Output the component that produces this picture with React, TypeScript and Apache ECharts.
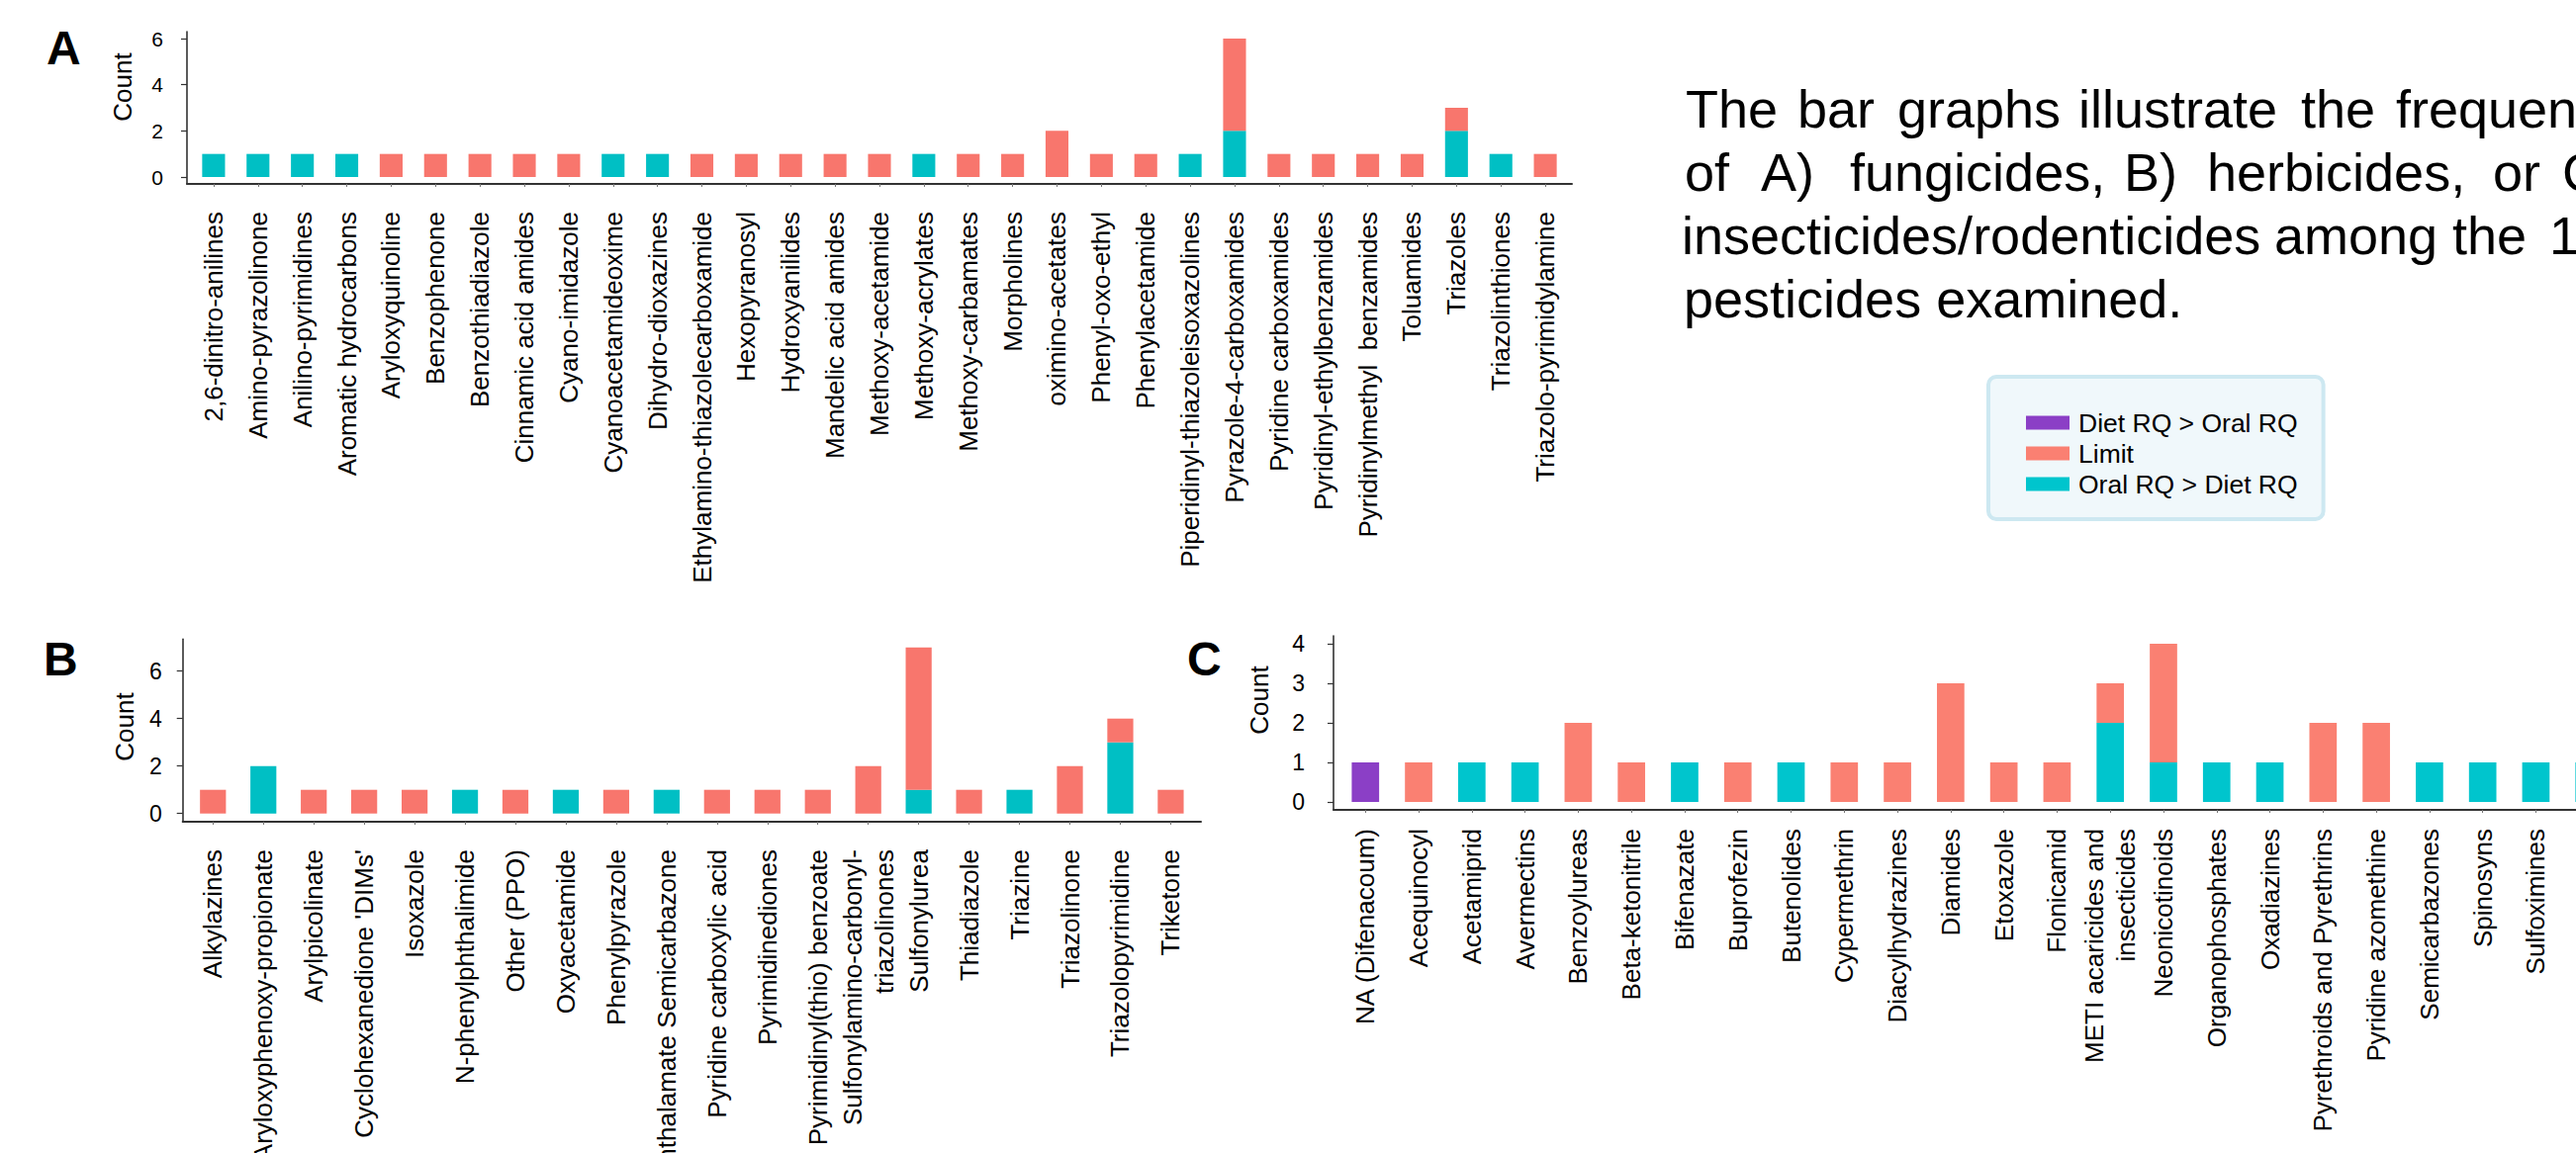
import React, { useEffect, useRef } from "react";
import * as echarts from "echarts";

const FONT = "Arial, 'Liberation Sans', Helvetica, sans-serif";

// ---- Panel A: fungicide chemical groups ----
const fungicideGroups = [
  "2,6-dinitro-anilines",
  "Amino-pyrazolinone",
  "Anilino-pyrimidines",
  "Aromatic hydrocarbons",
  "Aryloxyquinoline",
  "Benzophenone",
  "Benzothiadiazole",
  "Cinnamic acid amides",
  "Cyano-imidazole",
  "Cyanoacetamideoxime",
  "Dihydro-dioxazines",
  "Ethylamino-thiazolecarboxamide",
  "Hexopyranosyl",
  "Hydroxyanilides",
  "Mandelic acid amides",
  "Methoxy-acetamide",
  "Methoxy-acrylates",
  "Methoxy-carbamates",
  "Morpholines",
  "oximino-acetates",
  "Phenyl-oxo-ethyl",
  "Phenylacetamide",
  "Piperidinyl-thiazoleisoxazolines",
  "Pyrazole-4-carboxamides",
  "Pyridine carboxamides",
  "Pyridinyl-ethylbenzamides",
  "Pyridinylmethyl  benzamides",
  "Toluamides",
  "Triazoles",
  "Triazolinthiones",
  "Triazolo-pyrimidylamine",
];
const fungicideOral = [1, 1, 1, 1, 0, 0, 0, 0, 0, 1, 1, 0, 0, 0, 0, 0, 1, 0, 0, 0, 0, 0, 1, 2, 0, 0, 0, 0, 2, 1, 0];
const fungicideLimit = [0, 0, 0, 0, 1, 1, 1, 1, 1, 0, 0, 1, 1, 1, 1, 1, 0, 1, 1, 2, 1, 1, 0, 4, 1, 1, 1, 1, 1, 0, 1];
const fungicideTicks = [0, 2, 4, 6];

// ---- Panel B: herbicide chemical groups ----
const herbicideGroups = [
  "Alkylazines",
  "Aryloxyphenoxy-propionate",
  "Arylpicolinate",
  "Cyclohexanedione 'DIMs'",
  "Isoxazole",
  "N-phenylphthalimide",
  "Other (PPO)",
  "Oxyacetamide",
  "Phenylpyrazole",
  "Phthalamate Semicarbazone",
  "Pyridine carboxylic acid",
  "Pyrimidinediones",
  "Pyrimidinyl(thio) benzoate",
  "Sulfonylamino-carbonyl-\ntriazolinones",
  "Sulfonylurea",
  "Thiadiazole",
  "Triazine",
  "Triazolinone",
  "Triazolopyrimidine",
  "Triketone",
];
const herbicideOral = [0, 2, 0, 0, 0, 1, 0, 1, 0, 1, 0, 0, 0, 0, 1, 0, 1, 0, 3, 0];
const herbicideLimit = [1, 0, 1, 1, 1, 0, 1, 0, 1, 0, 1, 1, 1, 2, 6, 1, 0, 2, 1, 1];
const herbicideTicks = [0, 2, 4, 6];

// ---- Panel C: insecticide / rodenticide chemical groups ----
const insecticideGroups = [
  "NA (Difenacoum)",
  "Acequinocyl",
  "Acetamiprid",
  "Avermectins",
  "Benzoylureas",
  "Beta-ketonitrile",
  "Bifenazate",
  "Buprofezin",
  "Butenolides",
  "Cypermethrin",
  "Diacylhydrazines",
  "Diamides",
  "Etoxazole",
  "Flonicamid",
  "METI acaricides and\ninsecticides",
  "Neonicotinoids",
  "Organophosphates",
  "Oxadiazines",
  "Pyrethroids and Pyrethrins",
  "Pyridine azomethine",
  "Semicarbazones",
  "Spinosyns",
  "Sulfoximines",
  "",
];
const insecticideOral = [0, 0, 1, 1, 0, 0, 1, 0, 1, 0, 0, 0, 0, 0, 2, 1, 1, 1, 0, 0, 1, 1, 1, 1];
const insecticideLimit = [0, 1, 0, 0, 2, 1, 0, 1, 0, 1, 1, 3, 1, 1, 1, 3, 0, 0, 2, 2, 0, 0, 0, 0];
const insecticideDiet = [1, 0, 0, 0, 0, 0, 0, 0, 0, 0, 0, 0, 0, 0, 0, 0, 0, 0, 0, 0, 0, 0, 0, 0];
const insecticideTicks = [0, 1, 2, 3, 4];

const SERIES_DIET = "Diet RQ > Oral RQ";
const SERIES_LIMIT = "Limit";
const SERIES_ORAL = "Oral RQ > Diet RQ";

// Caption, one justified line per row
const captionLines = [
  ["The", "bar", "graphs", "illustrate", "the", "frequency"],
  ["of", "A)", "fungicides,", "B)", "herbicides,", "or", "C)"],
  ["insecticides/rodenticides", "among", "the", "11"],
  ["pesticides examined."],
];
const captionWordX = [
  [1704, 1817, 1918, 2101, 2326, 2422],
  [1703, 1780, 1870, 2147, 2231, 2520, 2590],
  [1700, 2299, 2479, 2577],
  [1702],
];
const captionBaselines = [129, 193, 257, 321];

const COLORS_AB = { oral: "#00BFC4", limit: "#F8766D", diet: "#8B3FC6" };
const COLORS_C = { oral: "#00C5CD", limit: "#FA8072", diet: "#8B3FC6" };

type Panel = {
  letter: string;
  letterX: number;
  letterY: number;
  groups: string[];
  oral: number[];
  limit: number[];
  diet?: number[];
  ticks: number[];
  yMin: number;
  yMax: number;
  left: number;
  top: number;
  width: number;
  height: number;
  tickFont: number;
  yLabelMargin: number;
  xLabelMargin: number;
  countX: number;
  countY: number;
  colors: { oral: string; limit: string; diet: string };
};

const panels: Panel[] = [
  {
    letter: "A", letterX: 47, letterY: 48,
    groups: fungicideGroups, oral: fungicideOral, limit: fungicideLimit,
    ticks: fungicideTicks, yMin: -0.3, yMax: 6.3,
    left: 189, top: 32, width: 1400, height: 154,
    tickFont: 21, yLabelMargin: 24, xLabelMargin: 28,
    countX: 124, countY: 88, colors: COLORS_AB,
  },
  {
    letter: "B", letterX: 44, letterY: 666,
    groups: herbicideGroups, oral: herbicideOral, limit: herbicideLimit,
    ticks: herbicideTicks, yMin: -0.35, yMax: 7.35,
    left: 184.7, top: 646.3, width: 1029.3, height: 184.8,
    tickFont: 23, yLabelMargin: 21, xLabelMargin: 28,
    countX: 126, countY: 735, colors: COLORS_AB,
  },
  {
    letter: "C", letterX: 1200, letterY: 666,
    groups: insecticideGroups, oral: insecticideOral, limit: insecticideLimit, diet: insecticideDiet,
    ticks: insecticideTicks, yMin: -0.2, yMax: 4.2,
    left: 1348, top: 643, width: 1301.5, height: 176,
    tickFont: 23, yLabelMargin: 29, xLabelMargin: 19,
    countX: 1273, countY: 708, colors: COLORS_C,
  },
];

// Stack the layers bottom-up: each item is [slot, start, end]
function stackSegments(layers: number[][]) {
  const n = layers[0].length;
  const base = new Array(n).fill(0);
  return layers.map((values) => {
    const items: number[][] = [];
    values.forEach((v, k) => {
      if (v > 0) items.push([k + 1, base[k], base[k] + v]);
      base[k] += v;
    });
    return items;
  });
}

function buildOption() {
  const grid: any[] = [];
  const xAxis: any[] = [];
  const yAxis: any[] = [];
  const series: any[] = [];
  const graphic: any[] = [];

  panels.forEach((p, i) => {
    const n = p.groups.length;
    const slots = p.groups.map((_, k) => k + 1);
    const band = p.width / (n + 0.2);
    const barW = band * 0.515;

    grid.push({
      left: p.left, top: p.top, width: p.width, height: p.height,
      containLabel: false, outerBoundsMode: "none",
    });

    xAxis.push({
      type: "value", gridIndex: i, min: 0.4, max: n + 0.6,
      axisLine: { show: true, onZero: false, lineStyle: { color: "#333", width: 2 } },
      axisTick: { show: true, customValues: slots, length: 3, lineStyle: { color: "#777", width: 1 } },
      axisLabel: {
        show: true, customValues: slots, rotate: 90, margin: p.xLabelMargin,
        fontSize: 26, fontFamily: FONT, color: "#000", lineHeight: 32,
        formatter: (v: number) => p.groups[Math.round(v) - 1] ?? "",
      },
      splitLine: { show: false },
    });

    yAxis.push({
      type: "value", gridIndex: i, min: p.yMin, max: p.yMax,
      axisLine: { show: true, onZero: false, lineStyle: { color: "#333", width: 1.6 } },
      axisTick: { show: true, customValues: p.ticks, length: 6, lineStyle: { color: "#333", width: 1.2 } },
      axisLabel: {
        show: true, customValues: p.ticks, margin: p.yLabelMargin,
        fontSize: p.tickFont, fontFamily: FONT, color: "#000",
      },
      splitLine: { show: false },
    });

    const layers = [
      { name: SERIES_ORAL, values: p.oral, color: p.colors.oral },
      { name: SERIES_LIMIT, values: p.limit, color: p.colors.limit },
    ];
    if (p.diet) layers.push({ name: SERIES_DIET, values: p.diet, color: p.colors.diet });

    const stacked = stackSegments(layers.map((l) => l.values));

    layers.forEach((l, li) => {
      series.push({
        type: "custom", name: l.name, xAxisIndex: i, yAxisIndex: i,
        data: stacked[li],
        encode: { x: 0, y: [1, 2] },
        itemStyle: { color: l.color },
        silent: true,
        renderItem: (_params: any, api: any) => {
          const x = api.value(0);
          const lo = api.coord([x, api.value(1)]);
          const hi = api.coord([x, api.value(2)]);
          return {
            type: "rect",
            shape: { x: lo[0] - barW / 2, y: hi[1], width: barW, height: lo[1] - hi[1] },
            style: { fill: l.color },
          };
        },
      });
    });

    graphic.push({
      type: "text", x: p.letterX, y: p.letterY,
      style: {
        text: p.letter, fontSize: 48, fontWeight: "bold", fontFamily: FONT,
        fill: "#000", align: "left", verticalAlign: "middle",
      },
    });
    graphic.push({
      type: "text", x: p.countX, y: p.countY, rotation: Math.PI / 2,
      style: {
        text: "Count", fontSize: 26, fontFamily: FONT, fill: "#000",
        align: "center", verticalAlign: "middle",
      },
    });
  });

  captionLines.forEach((words, li) => {
    words.forEach((w, wi) => {
      graphic.push({
        type: "text", x: captionWordX[li][wi], y: captionBaselines[li] - 0.3465 * 54,
        style: {
          text: w, fontSize: 54, fontFamily: FONT, fill: "#000",
          align: "left", verticalAlign: "middle",
        },
      });
    });
  });

  return {
    animation: false,
    backgroundColor: "#fff",
    grid, xAxis, yAxis, series, graphic,
    legend: {
      show: true, orient: "vertical", left: 2010, top: 381,
      selectedMode: false, icon: "rect",
      itemWidth: 44, itemHeight: 14, itemGap: 4,
      padding: [33, 26, 22, 38],
      backgroundColor: "#f0f8fb", borderColor: "#cde8f1", borderWidth: 4, borderRadius: 8,
      textStyle: { fontSize: 26.5, fontFamily: FONT, color: "#000", lineHeight: 26, padding: [0, 0, 0, 4] },
      data: [
        { name: SERIES_DIET, itemStyle: { color: COLORS_C.diet } },
        { name: SERIES_LIMIT, itemStyle: { color: COLORS_C.limit } },
        { name: SERIES_ORAL, itemStyle: { color: COLORS_C.oral } },
      ],
    },
  };
}

export default function App() {
  const ref = useRef<HTMLDivElement | null>(null);

  useEffect(() => {
    if (!ref.current) return;
    const chart = echarts.init(ref.current, null, { renderer: "svg" });
    chart.setOption(buildOption() as any);
    return () => chart.dispose();
  }, []);

  return (
    <div
      ref={ref}
      style={{ position: "absolute", left: 0, top: 0, width: 2604, height: 1166, background: "#fff" }}
    />
  );
}
